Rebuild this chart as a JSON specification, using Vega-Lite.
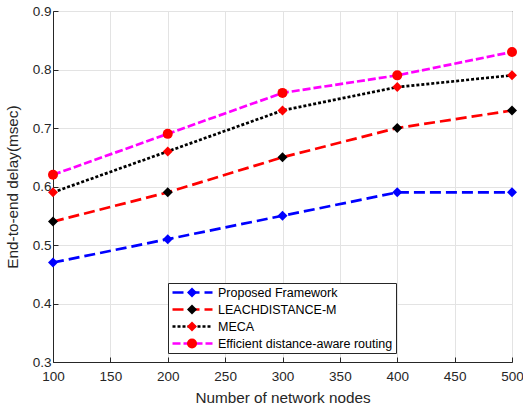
{
  "$schema": "https://vega.github.io/schema/vega-lite/v6.json",
  "width": 459,
  "height": 351,
  "autosize": {"type": "none"},
  "padding": {"left": 53, "top": 11, "right": 11, "bottom": 45},
  "background": "white",
  "config": {
    "font": "Liberation Sans",
    "view": {"stroke": "#262626", "strokeWidth": 1},
    "axis": {
      "grid": true,
      "gridColor": "#e3e3e3",
      "gridWidth": 1,
      "domainColor": "#262626",
      "tickColor": "#262626",
      "tickSize": -5,
      "labelFlush": false,
      "labelFont": "Liberation Sans",
      "labelFontSize": 13.5,
      "labelColor": "#262626",
      "titleFont": "Liberation Sans",
      "titleFontSize": 15.3,
      "titleFontWeight": "normal",
      "titleColor": "#262626"
    }
  },
  "data": {
    "values": [
      {"nodes": 100, "delay": 0.47, "series": "Proposed Framework", "order": 1},
      {"nodes": 200, "delay": 0.51, "series": "Proposed Framework", "order": 1},
      {"nodes": 300, "delay": 0.55, "series": "Proposed Framework", "order": 1},
      {"nodes": 400, "delay": 0.59, "series": "Proposed Framework", "order": 1},
      {"nodes": 500, "delay": 0.59, "series": "Proposed Framework", "order": 1},
      {"nodes": 100, "delay": 0.54, "series": "LEACHDISTANCE-M", "order": 2},
      {"nodes": 200, "delay": 0.59, "series": "LEACHDISTANCE-M", "order": 2},
      {"nodes": 300, "delay": 0.65, "series": "LEACHDISTANCE-M", "order": 2},
      {"nodes": 400, "delay": 0.70, "series": "LEACHDISTANCE-M", "order": 2},
      {"nodes": 500, "delay": 0.73, "series": "LEACHDISTANCE-M", "order": 2},
      {"nodes": 100, "delay": 0.59, "series": "MECA", "order": 3},
      {"nodes": 200, "delay": 0.66, "series": "MECA", "order": 3},
      {"nodes": 300, "delay": 0.73, "series": "MECA", "order": 3},
      {"nodes": 400, "delay": 0.77, "series": "MECA", "order": 3},
      {"nodes": 500, "delay": 0.79, "series": "MECA", "order": 3},
      {"nodes": 100, "delay": 0.62, "series": "Efficient distance-aware routing", "order": 4},
      {"nodes": 200, "delay": 0.69, "series": "Efficient distance-aware routing", "order": 4},
      {"nodes": 300, "delay": 0.76, "series": "Efficient distance-aware routing", "order": 4},
      {"nodes": 400, "delay": 0.79, "series": "Efficient distance-aware routing", "order": 4},
      {"nodes": 500, "delay": 0.83, "series": "Efficient distance-aware routing", "order": 4}
    ]
  },
  "encoding": {
    "x": {
      "field": "nodes",
      "type": "quantitative",
      "scale": {"domain": [100, 500], "nice": false, "zero": false},
      "axis": {"values": [100, 150, 200, 250, 300, 350, 400, 450, 500], "title": "Number of network nodes", "labelPadding": 12, "titlePadding": 8}
    },
    "y": {
      "field": "delay",
      "type": "quantitative",
      "scale": {"domain": [0.3, 0.9], "nice": false, "zero": false},
      "axis": {"values": [0.3, 0.4, 0.5, 0.6, 0.7, 0.8, 0.9], "format": ".1f", "title": "End-to-end delay(msec)", "labelPadding": 7, "titlePadding": 12}
    }
  },
  "layer": [
    {
      "mark": {"type": "line", "strokeWidth": 2.7},
      "encoding": {
        "color": {
          "field": "series",
          "type": "nominal",
          "scale": {
            "domain": ["Proposed Framework", "LEACHDISTANCE-M", "MECA", "Efficient distance-aware routing"],
            "range": ["#0000ff", "#ff0000", "#000000", "#ff00ff"]
          },
          "legend": {
            "orient": "none",
            "legendX": 115,
            "legendY": 272,
            "title": null,
            "symbolType": "M-4,0H4",
            "symbolSize": 100,
            "symbolOffset": 15,
            "symbolStrokeWidth": 2.7,
            "labelFont": "Liberation Sans",
            "labelFontSize": 12.5,
            "labelColor": "#000000",
            "labelLimit": 0,
            "labelOffset": 19,
            "padding": 3,
            "rowPadding": 4,
            "strokeColor": "#262626",
            "fillColor": "#ffffff"
          }
        },
        "strokeDash": {
          "field": "series",
          "type": "nominal",
          "scale": {
            "domain": ["Proposed Framework", "LEACHDISTANCE-M", "MECA", "Efficient distance-aware routing"],
            "range": [[11, 5], [11, 5], [3, 2], [8, 3]]
          }
        }
      }
    },
    {
      "mark": {"type": "point", "filled": true, "size": 100, "opacity": 1, "strokeWidth": 0},
      "encoding": {
        "fill": {
          "field": "series",
          "type": "nominal",
          "sort": {"field": "order", "op": "min"},
          "scale": {"range": ["#0000ff", "#000000", "#ff0000", "#ff0000"]},
          "legend": {
            "orient": "none",
            "legendX": 131,
            "legendY": 273.5,
            "title": null,
            "symbolSize": 100,
            "symbolStrokeWidth": 0,
            "symbolOpacity": 1,
            "labelExpr": "''",
            "labelFontSize": 1,
            "labelOffset": 0,
            "padding": 3,
            "rowPadding": 7
          }
        },
        "shape": {
          "field": "series",
          "type": "nominal",
          "sort": {"field": "order", "op": "min"},
          "scale": {"range": ["diamond", "diamond", "diamond", "circle"]}
        }
      }
    }
  ]
}
